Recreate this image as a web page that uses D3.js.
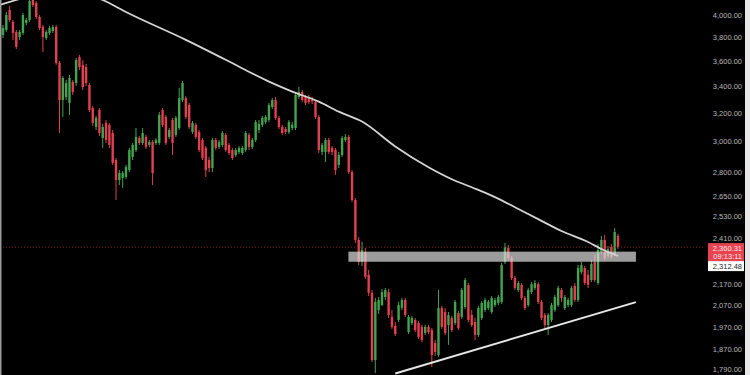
<!DOCTYPE html>
<html><head><meta charset="utf-8">
<script src="https://cdn.jsdelivr.net/npm/d3@7"></script>
<style>html,body{margin:0;padding:0;background:#000;}svg{display:block;}</style>
</head><body>
<svg id="c" width="750" height="375"></svg>
<script>
// ---- data (prices) ----
const candleOpen = [3822,3866,4046,3937,3849,3805,3840,3928,3955,4139,4111,3982,3893,3796,3840,3857,3893,3587,3297,3320,
3275,3435,3427,3636,3571,3554,3412,3238,3102,3223,3025,3130,3116,3059,2877,2749,2762,2768,2812,2897,
2943,3025,2990,3032,2977,2997,2990,2990,3223,3173,3032,3151,3046,3094,3297,3312,3260,3066,3116,3066,
3011,2957,2877,2825,3011,2964,2977,3046,2977,2943,2910,2930,2923,2943,3046,2964,3011,3080,3116,3137,
3151,3245,3297,3166,3101,3087,3066,3094,3094,3320,3358,3320,3312,3297,3282,3173,2930,2930,3011,2957,
2943,2845,2910,3011,3032,2800,2627,2399,2282,2334,2216,2127,1826,2046,2069,2107,2131,2014,1973,2000,
2056,2093,1946,1986,2000,1986,1969,1942,1969,1955,1898,1847,2055,2037,1977,2009,1986,2032,2014,2060,
2166,2023,1991,1933,2009,2046,2055,2037,2069,2079,2084,2282,2356,2303,2201,2141,2166,2103,2069,2131,
2151,2170,2084,2023,1977,2000,2046,2069,2141,2055,2069,2069,2161,2093,2230,2251,2216,2190,2282,2175,
2334,2399,2313,2361,2324,2421];
const candleHigh = [3910,4028,4083,3955,3866,3866,4018,3973,4167,4167,4129,4000,3910,3866,3902,3910,3910,3603,3482,3451,
3490,3451,3628,3653,3611,3579,3427,3253,3180,3238,3123,3151,3130,3080,2890,2812,2806,2845,2957,2990,
3094,3039,3094,3046,3011,3011,3025,3209,3238,3187,3094,3166,3180,3389,3443,3328,3275,3144,3130,3080,
3025,2970,2897,3025,3025,3011,3073,3059,2990,2957,2957,2970,2970,3073,3059,3025,3151,3151,3180,3187,
3275,3312,3320,3180,3116,3101,3151,3137,3350,3397,3373,3335,3335,3320,3297,3187,2990,3025,3025,2970,
2957,2930,3039,3052,3046,2812,2639,2415,2388,2356,2241,2141,2103,2107,2146,2151,2146,2046,1991,2084,
2103,2103,2023,2018,2009,1995,1978,1978,1978,1964,1911,2141,2065,2055,2037,2018,2093,2041,2151,2200,
2176,2046,2009,2065,2088,2103,2093,2112,2103,2117,2277,2383,2372,2313,2211,2185,2175,2112,2151,2180,
2190,2180,2093,2032,2032,2079,2117,2161,2151,2117,2103,2161,2175,2266,2282,2261,2241,2292,2318,2377,
2421,2426,2366,2377,2465,2432];
const candleLow = [3796,3849,3937,3779,3703,3779,3822,3910,3937,4074,3964,3866,3678,3779,3822,3840,3571,3059,3172,3297,
3187,3335,3404,3530,3373,3404,3209,3109,3080,3039,2957,2990,2957,2845,2627,2718,2700,2755,2800,2877,
2930,2977,2977,2950,2964,2718,2977,2977,3101,2977,3018,2910,3032,3080,3282,3158,3087,3053,3018,2930,
2877,2768,2799,2799,2943,2950,2964,2930,2910,2877,2897,2917,2910,2930,2943,2950,2997,3059,3101,3123,
3137,3231,3151,3087,3046,3052,3052,3080,3080,3305,3282,3260,3267,3267,3158,2923,2910,2864,2917,2910,
2781,2825,2897,2997,2787,2615,2383,2266,2261,2196,2112,1818,1773,2028,2065,2093,2009,1960,1929,1991,
2046,2014,1937,1977,1946,1915,1902,1933,1937,1797,1843,1839,1960,1933,1890,1946,1977,1955,2005,2051,
1991,1969,1911,1924,2000,2037,2046,2028,2060,2069,2074,2271,2292,2190,2141,2131,2093,2046,2060,2122,
2141,2074,2000,1964,1933,1991,2037,2060,2084,2046,2060,2060,2084,2084,2220,2166,2151,2180,2180,2166,
2324,2292,2303,2298,2313,2350];
const candleClose = [3884,4000,3955,3840,3720,3849,4000,3955,4129,4092,3982,3884,3805,3849,3884,3893,3587,3297,3466,3427,
3467,3358,3611,3554,3396,3427,3223,3130,3166,3059,3101,3011,2977,2858,2749,2793,2793,2832,2943,2977,
3032,2990,3059,2964,2997,2793,3011,3187,3116,2990,3080,2990,3166,3312,3427,3173,3101,3130,3032,2943,
2890,2812,2825,3011,2957,2997,3059,2943,2923,2890,2943,2957,2957,3059,2964,3011,3137,3123,3166,3173,
3260,3297,3166,3101,3059,3066,3137,3116,3335,3358,3297,3275,3282,3286,3173,2943,2977,3011,2930,2930,
2812,2910,3025,3032,2800,2627,2399,2282,2345,2206,2127,1826,2084,2093,2131,2141,2023,1969,1937,2069,
2093,2023,2014,2009,1955,1924,1911,1969,1946,1847,1860,2055,1969,1942,2023,1955,2084,1964,2141,2190,
2000,1977,1933,2055,2079,2093,2084,2103,2093,2107,2266,2361,2303,2200,2151,2175,2103,2055,2141,2170,
2175,2084,2009,1977,2023,2069,2107,2151,2103,2107,2093,2151,2093,2251,2266,2175,2166,2271,2190,2345,
2399,2303,2350,2308,2443,2360.31];

// moving average (sampled along the candle index)
const maIndex = [-1,4,16,30,37,55,67,80,87,95,101,108,118,128,135,141,148,154,161,168,176,180,185];
const maValue = [4092,4139,4253,4139,4027,3780,3613,3438,3361,3285,3211,3140,2967,2830,2754,2704,2644,2584,2515,2448,2388,2350,2313];

// rising support line
const supportIndex = [118, 190.4];
const supportValue = [1771, 2083];

// horizontal resistance zone
const zoneIndex = [103.9, 190.4];
const zoneValue = [2283, 2336];

// price axis
const tickValues = [4000,3800,3600,3400,3200,3000,2800,2650,2530,2410,2170,2070,1970,1870,1790];
const lastPrice = 2360.31;
const countdown = "09:13:11";
const maLast = 2312.48;

// ---- drawing ----
const svg = d3.select("#c");
const W = 750, H = 375;
svg.append("rect").attr("width", W).attr("height", H).attr("fill", "#000");

const x = d3.scaleLinear().domain([0, candleClose.length - 1]).range([3, 618]);
const y = d3.scaleLog().domain([4000, 1790]).range([15, 368.8]);

const plot = svg.append("g");
plot.append("clipPath").attr("id", "clip").append("rect").attr("x", 0).attr("y", 0).attr("width", 705).attr("height", H);
const g = plot.append("g").attr("clip-path", "url(#clip)");

// candles
const up = "#43a34e", down = "#e0404f";
const idx = d3.range(candleClose.length);
const bw = 2.4;
g.append("g").selectAll("line").data(idx).join("line")
  .attr("x1", i => x(i)).attr("x2", i => x(i))
  .attr("y1", i => y(candleHigh[i])).attr("y2", i => y(candleLow[i]))
  .attr("stroke", i => candleClose[i] >= candleOpen[i] ? up : down)
  .attr("stroke-width", 1);
g.append("g").selectAll("rect").data(idx).join("rect")
  .attr("x", i => x(i) - bw / 2)
  .attr("width", bw)
  .attr("y", i => y(Math.max(candleOpen[i], candleClose[i])))
  .attr("height", i => Math.max(1, y(Math.min(candleOpen[i], candleClose[i])) - y(Math.max(candleOpen[i], candleClose[i]))))
  .attr("fill", i => candleClose[i] >= candleOpen[i] ? up : down);

// zone
g.append("rect")
  .attr("x", x(zoneIndex[0])).attr("width", x(zoneIndex[1]) - x(zoneIndex[0]))
  .attr("y", y(zoneValue[1])).attr("height", y(zoneValue[0]) - y(zoneValue[1]))
  .attr("fill", "#d8d8d8").attr("fill-opacity", 0.72);

// current price dashed line
g.append("line").attr("x1", 0).attr("x2", 708)
  .attr("y1", y(lastPrice)).attr("y2", y(lastPrice))
  .attr("stroke", "#8a2028").attr("stroke-width", 1).attr("stroke-dasharray", "1,2");

// MA line
const maLine = d3.line().x(d => x(d[0])).y(d => y(d[1])).curve(d3.curveMonotoneX);
g.append("path").datum(maIndex.map((v, k) => [v, maValue[k]]))
  .attr("d", maLine).attr("fill", "none").attr("stroke", "#d4d4d4").attr("stroke-width", 1.8);

// support line
g.append("path").datum(supportIndex.map((v, k) => [v, supportValue[k]]))
  .attr("d", d3.line().x(d => x(d[0])).y(d => y(d[1])))
  .attr("stroke", "#e6e6e6").attr("stroke-width", 2).attr("fill", "none");

// y axis labels
const axis = d3.axisRight(y).tickValues(tickValues).tickSize(0).tickPadding(0).tickFormat(d3.format(",.2f"));
const ag = svg.append("g").attr("transform", "translate(742,0)").call(axis);
ag.select(".domain").remove();
ag.selectAll("text").attr("text-anchor", "end").attr("fill", "#b8b8b8")
  .style("font-family", "Liberation Sans, Arial, sans-serif").style("font-size", "7.5px");

// last price label
const ly = y(lastPrice);
svg.append("rect").attr("x", 708).attr("y", ly - 4).attr("width", 36).attr("height", 18).attr("fill", "#e8444f");
svg.append("text").attr("x", 742).attr("y", ly + 3.5).attr("text-anchor", "end").attr("fill", "#ffe9ea")
  .style("font-family", "Liberation Sans, Arial, sans-serif").style("font-size", "7.5px").text(d3.format(",.2f")(lastPrice));
svg.append("text").attr("x", 742).attr("y", ly + 11.5).attr("text-anchor", "end").attr("fill", "#ffe9ea")
  .style("font-family", "Liberation Sans, Arial, sans-serif").style("font-size", "7.5px").text(countdown);
// MA label (pushed below the price label)
svg.append("rect").attr("x", 708).attr("y", ly + 14).attr("width", 36).attr("height", 10).attr("fill", "#ffffff");
svg.append("text").attr("x", 742).attr("y", ly + 21.5).attr("text-anchor", "end").attr("fill", "#222")
  .style("font-family", "Liberation Sans, Arial, sans-serif").style("font-size", "7.5px").text(d3.format(",.2f")(maLast));

// frame edges
svg.append("rect").attr("x", 745).attr("y", 0).attr("width", 5).attr("height", H).attr("fill", "#e8e8e8");
svg.append("rect").attr("x", 0).attr("y", 0).attr("width", 1.5).attr("height", H).attr("fill", "#9a9a9a");
</script>
</body></html>
